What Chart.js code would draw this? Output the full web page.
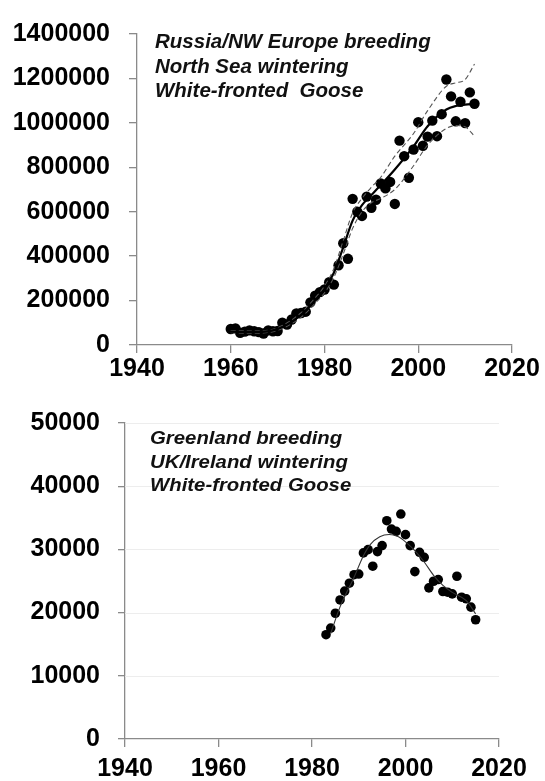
<!DOCTYPE html>
<html lang="en">
<head>
  <meta charset="UTF-8" />
  <title>White-fronted Goose population trends</title>
  <script src="https://cdn.jsdelivr.net/npm/chart.js"></script>
  <style>
    * { box-sizing: border-box; }
    body {
      margin: 0;
      width: 545px;
      height: 781px;
      background: #fff;
      font-family: 'Liberation Sans', Arial, sans-serif;
      position: relative;
      overflow: hidden;
    }
    .panel {
      position: absolute;
      left: 0;
      width: 545px;
    }
    #topPanel { top: 0; height: 390px; }
    #bottomPanel { top: 390px; height: 391px; }
    .label {
      position: absolute;
      font-weight: bold;
      font-style: italic;
      color: #111;
      white-space: pre;
      transform-origin: left top;
    }
    #topLabel { left: 155px; top: 29px; font-size: 20.5px; line-height: 24.5px; }
    #bottomLabel { left: 150px; top: 36px; font-size: 18.5px; line-height: 23.5px; transform: scaleX(1.1); }
  </style>
</head>
<body>
  <div class="panel" id="topPanel">
    <canvas id="topChart" width="545" height="390"></canvas>
    <div class="label" id="topLabel">Russia/NW Europe breeding
North Sea wintering
White-fronted  Goose</div>
  </div>
  <div class="panel" id="bottomPanel">
    <canvas id="bottomChart" width="545" height="391"></canvas>
    <div class="label" id="bottomLabel">Greenland breeding
UK/Ireland wintering
White-fronted Goose</div>
  </div>

  <script>
    // Russia/NW Europe population, annual counts
    const ruYears = [1960, 1961, 1962, 1963, 1964, 1965, 1966, 1967, 1968, 1969,
                     1970, 1971, 1972, 1973, 1974, 1975, 1976, 1977, 1978, 1979,
                     1980, 1981, 1982, 1983, 1984, 1985, 1986, 1987, 1988, 1989,
                     1990, 1991, 1992, 1993, 1994, 1995, 1996, 1997, 1998, 1999,
                     2000, 2001, 2002, 2003, 2004, 2005, 2006, 2007, 2008, 2009,
                     2010, 2011, 2012];
    const ruCounts = [72000, 75000, 55000, 60000, 66000, 62000, 58000, 52000, 66000, 62000,
                      63000, 100000, 92000, 115000, 142000, 144000, 150000, 192000, 222000, 238000,
                      250000, 283000, 272000, 359000, 458000, 388000, 658000, 600000, 581000, 668000,
                      618000, 654000, 727000, 705000, 734000, 635000, 920000, 850000, 753000, 880000,
                      1003000, 897000, 938000, 1010000, 940000, 1039000, 1195000, 1119000, 1007000, 1095000,
                      999000, 1137000, 1086000];
    // smoothed trend and its confidence band
    const ruTrendYears = [1960, 1965, 1970, 1975, 1978, 1980, 1982, 1984, 1986, 1988,
                          1990, 1992, 1995, 1999, 2002, 2006, 2008, 2010, 2012];
    const ruTrend = [60000, 58000, 72000, 135000, 200000, 250000, 325000, 440000, 560000, 630000,
                     675000, 720000, 790000, 894000, 985000, 1060000, 1076000, 1082000, 1085000];
    const ruUpper = [65000, 63000, 78000, 145000, 212000, 265000, 345000, 470000, 595000, 660000,
                     710000, 755000, 850000, 952000, 1055000, 1165000, 1180000, 1195000, 1265000];
    const ruLower = [55000, 53000, 66000, 125000, 188000, 235000, 305000, 410000, 525000, 600000,
                     640000, 660000, 700000, 807000, 900000, 975000, 988000, 982000, 940000];

    // Greenland population, annual counts
    const glYears = [1983, 1984, 1985, 1986, 1987, 1988, 1989, 1990, 1991, 1992,
                     1993, 1994, 1995, 1996, 1997, 1998, 1999, 2000, 2001, 2002,
                     2003, 2004, 2005, 2006, 2007, 2008, 2009, 2010, 2011, 2012,
                     2013, 2014, 2015];
    const glCounts = [16500, 17560, 19900, 22000, 23400, 24650, 26000, 26100, 29450, 29960,
                      27340, 29650, 30600, 34540, 33220, 32850, 35590, 32330, 30600, 26490,
                      29540, 28750, 23920, 24960, 25230, 23340, 23230, 22960, 25750, 22440,
                      22180, 20860, 18870];
    const glTrendYears = [1984, 1986, 1989, 1991, 1992.5, 1994.5, 1996.5, 1998.5, 2000, 2002,
                          2004, 2006, 2008, 2010, 2013, 2015];
    const glTrend = [16700, 20900, 25600, 29000, 30800, 32000, 32350, 32000, 31200, 29800,
                     28000, 25900, 24300, 23200, 21900, 19800];

    const xTicks = [1940, 1960, 1980, 2000, 2020];

    const pairs = (xs, ys) => xs.map((x, i) => ({ x: x, y: ys[i] }));
    const tickFont = { family: "'Liberation Sans', Arial, sans-serif", size: 25, weight: 'bold' };

    function makeChart(id, opts) {
      const datasets = [
        {
          data: pairs(opts.years, opts.counts),
          pointRadius: opts.dot,
          pointBackgroundColor: '#000',
          pointBorderWidth: 0,
          showLine: false,
          order: 1
        }
      ];
      opts.lines.forEach(l => {
        datasets.push({
          data: pairs(l.x, l.y),
          showLine: true,
          pointRadius: 0,
          borderColor: l.color,
          borderWidth: l.width,
          borderDash: l.dash || [],
          cubicInterpolationMode: 'monotone',
          fill: false,
          order: 0
        });
      });

      return new Chart(document.getElementById(id), {
        type: 'scatter',
        data: { datasets },
        options: {
          responsive: false,
          animation: false,
          layout: {
            autoPadding: false,
            padding: opts.padding
          },
          plugins: { legend: { display: false }, tooltip: { enabled: false } },
          scales: {
            x: {
              type: 'linear',
              min: 1940,
              max: 2020,
              afterBuildTicks: s => { s.ticks = xTicks.map(v => ({ value: v })); },
              afterFit: s => { s.height = opts.xHeight; },
              border: { display: true, color: '#8a8a8a', width: 1.3 },
              grid: { drawOnChartArea: false, drawTicks: true, tickLength: 8, color: '#8a8a8a', lineWidth: 1.3 },
              ticks: { color: '#000', font: tickFont, padding: opts.xPad, maxRotation: 0, callback: v => String(v) }
            },
            y: {
              min: 0,
              max: opts.yMax,
              afterFit: s => { s.width = opts.yWidth; },
              border: { display: true, color: '#8a8a8a', width: 1.3 },
              grid: {
                drawOnChartArea: false,
                drawTicks: true,
                tickLength: opts.yTickLen,
                color: '#8a8a8a',
                lineWidth: 1.3
              },
              ticks: { color: '#000', font: tickFont, stepSize: opts.yStep, padding: opts.yPad, callback: v => String(v) }
            }
          }
        },
        plugins: opts.yGrid ? [{
          // faint horizontal gridlines inside the plot area
          id: 'softGrid',
          beforeDatasetsDraw(chart) {
            const { ctx, chartArea, scales } = chart;
            ctx.save();
            ctx.strokeStyle = '#ededed';
            ctx.lineWidth = 1;
            scales.y.ticks.forEach(t => {
              if (t.value === 0) return;
              const y = Math.round(scales.y.getPixelForValue(t.value)) + 0.5;
              ctx.beginPath();
              ctx.moveTo(chartArea.left, y);
              ctx.lineTo(chartArea.right, y);
              ctx.stroke();
            });
            ctx.restore();
          }
        }] : []
      });
    }

    makeChart('topChart', {
      years: ruYears,
      counts: ruCounts,
      dot: 5.2,
      lines: [
        { x: ruTrendYears, y: ruTrend, color: '#000', width: 2.2 },
        { x: ruTrendYears, y: ruUpper, color: '#555', width: 1.1, dash: [5, 3] },
        { x: ruTrendYears, y: ruLower, color: '#555', width: 1.1, dash: [5, 3] }
      ],
      yMax: 1400000,
      yStep: 200000,
      yWidth: 137,
      yTickLen: 8,
      yPad: 19,
      yGrid: false,
      xHeight: 45,
      xPad: 1,
      padding: { top: 24, right: 33, bottom: 0, left: 0 }
    });

    makeChart('bottomChart', {
      years: glYears,
      counts: glCounts,
      dot: 4.8,
      lines: [
        { x: glTrendYears, y: glTrend, color: '#333', width: 1.1 }
      ],
      yMax: 50000,
      yStep: 10000,
      yWidth: 125,
      yTickLen: 7,
      yPad: 18,
      yGrid: true,
      xHeight: 42,
      xPad: 7,
      padding: { top: 32, right: 46, bottom: 0, left: 0 }
    });
  </script>
</body>
</html>
